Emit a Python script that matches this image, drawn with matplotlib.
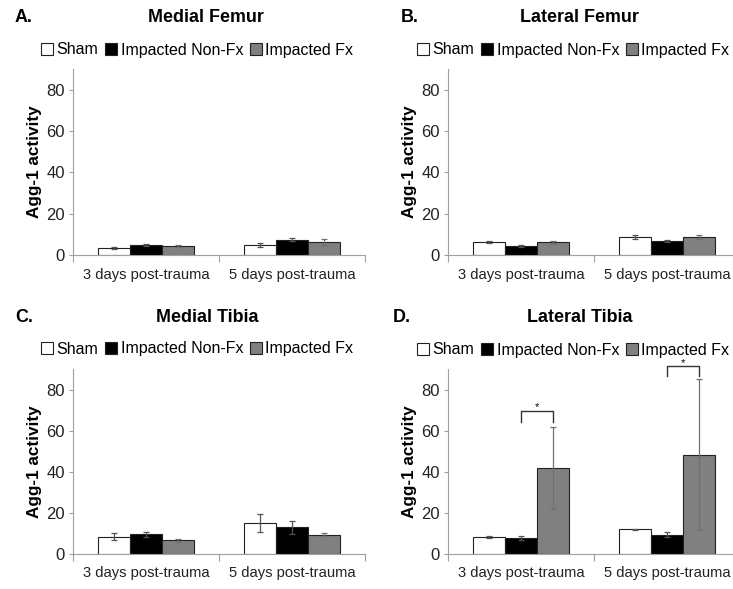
import numpy as np
import matplotlib
matplotlib.use("Agg")
import matplotlib.pyplot as plt
from matplotlib.patches import Patch

plt.rcParams["font.family"] = ["Liberation Sans", "DejaVu Sans"]

CATEGORIES = ["3 days post-trauma", "5 days post-trauma"]
GROUPS = ["Sham", "Impacted Non-Fx", "Impacted Fx"]
COLORS = ["white", "black", "#808080"]

# medias [sham, non-fx, fx] por tempo, e erros
medial_femur = [[3.4, 5.0, 4.2], [4.8, 7.4, 6.3]]
medial_femur_err = [[0.5, 0.5, 0.5], [0.8, 0.7, 1.3]]
lateral_femur = [[6.4, 4.4, 6.1], [8.8, 6.8, 8.7]]
lateral_femur_err = [[0.5, 0.3, 0.6], [1.1, 0.5, 1.0]]
medial_tibia = [[8.5, 9.6, 6.6], [15.0, 13.0, 9.3]]
medial_tibia_err = [[1.5, 1.2, 0.7], [4.4, 3.1, 0.7]]
lateral_tibia = [[8.2, 7.6, 41.8], [12.1, 9.4, 48.4]]
lateral_tibia_err = [[0.5, 1.0, 19.8], [0.3, 1.2, 36.9]]

PANELS = [
    ("A.", "Medial Femur", medial_femur, medial_femur_err),
    ("B.", "Lateral Femur", lateral_femur, lateral_femur_err),
    ("C.", "Medial Tibia", medial_tibia, medial_tibia_err),
    ("D.", "Lateral Tibia", lateral_tibia, lateral_tibia_err),
]

# colchetes de significancia no painel D: (categoria, barra esq, barra dir, altura, perna)
SIG_D = [(0, 1, 2, 69.5, 64.0), (1, 1, 2, 91.3, 86.8)]

W, H = 733, 589
fig = plt.figure(figsize=(W / 100, H / 100), dpi=100)

# posicoes em pixels: (esq eixo, topo eixo, y zero, x titulo, y titulo, x legenda, y legenda, x letra)
LAYOUT = [
    (73, 69, 255, 206, 18, 197, 50, 15),
    (448, 69, 255, 579, 18, 573, 50, 401),
    (73, 369, 554, 207, 318, 197, 349, 15),
    (448, 369, 554, 580, 318, 573, 350, 393),
]
AX_W = 292
BAR_W = 0.221
SPINE = "#a0a0a0"

for (letter, title, vals, errs), (x0, ytop, yzero, tx, ty, lx, ly, px) in zip(PANELS, LAYOUT):
    ax = fig.add_axes([x0 / W, 1 - yzero / H, AX_W / W, (yzero - ytop) / H])
    vals = np.array(vals)
    errs = np.array(errs)
    x = np.arange(len(CATEGORIES))
    for g in range(len(GROUPS)):
        xpos = x + (g - 1) * BAR_W
        ax.bar(xpos, vals[:, g], BAR_W, color=COLORS[g], edgecolor="#222222",
               linewidth=0.8, zorder=2)
        ax.errorbar(xpos, vals[:, g], yerr=errs[:, g], fmt="none",
                    ecolor="#555555" if g < 2 else "#707070", elinewidth=0.9,
                    capsize=2, capthick=0.9, zorder=3)
    ax.set_xlim(-0.5, 1.5)
    ax.set_ylim(0, 90)
    ax.set_yticks([0, 20, 40, 60, 80])
    ax.tick_params(axis="y", labelsize=12, length=3, color=SPINE, labelcolor="#222222", pad=3)
    ax.set_xticks([-0.5, 0.5, 1.5])
    ax.set_xticklabels([])
    ax.set_xticks(x, minor=True)
    ax.set_xticklabels(CATEGORIES, minor=True, fontsize=10.6)
    ax.tick_params(axis="x", which="major", length=5, color=SPINE, direction="out")
    ax.tick_params(axis="x", which="minor", length=0, pad=9, labelcolor="#222222")
    for s in ["top", "right"]:
        ax.spines[s].set_visible(False)
    ax.spines["left"].set_color(SPINE)
    ax.spines["bottom"].set_color(SPINE)
    ax.set_ylabel("Agg-1 activity", fontsize=12.3, fontweight="bold", labelpad=3)

    if letter == "D.":
        for cat, b1, b2, top, leg in SIG_D:
            xa = cat + (b1 - 1) * BAR_W
            xb = cat + (b2 - 1) * BAR_W
            ax.plot([xa, xa, xb, xb], [leg, top, top, leg], color="#333333",
                    lw=1.0, clip_on=False, zorder=4)
            # estrela no nivel da figura para ficar por cima da legenda
            fig.text((xa + xb) / 2, top + 1.8, "*", ha="center", va="center",
                     fontsize=8, transform=ax.transData, zorder=10)

    fig.text(tx / W, 1 - ty / H, title, ha="center", va="center",
             fontsize=12.9, fontweight="bold")
    fig.text(px / W, 1 - ty / H, letter, ha="left", va="center",
             fontsize=12.9, fontweight="bold")
    handles = [Patch(facecolor=c, edgecolor="#222222", linewidth=0.8) for c in COLORS]
    fig.legend(handles, GROUPS, loc="center", bbox_to_anchor=(lx / W, 1 - ly / H),
               ncol=3, frameon=False, fontsize=11.5, handlelength=0.8, handleheight=0.8,
               handletextpad=0.2, columnspacing=0.4, borderaxespad=0, borderpad=0)

fig.savefig("out.png", dpi=100)
